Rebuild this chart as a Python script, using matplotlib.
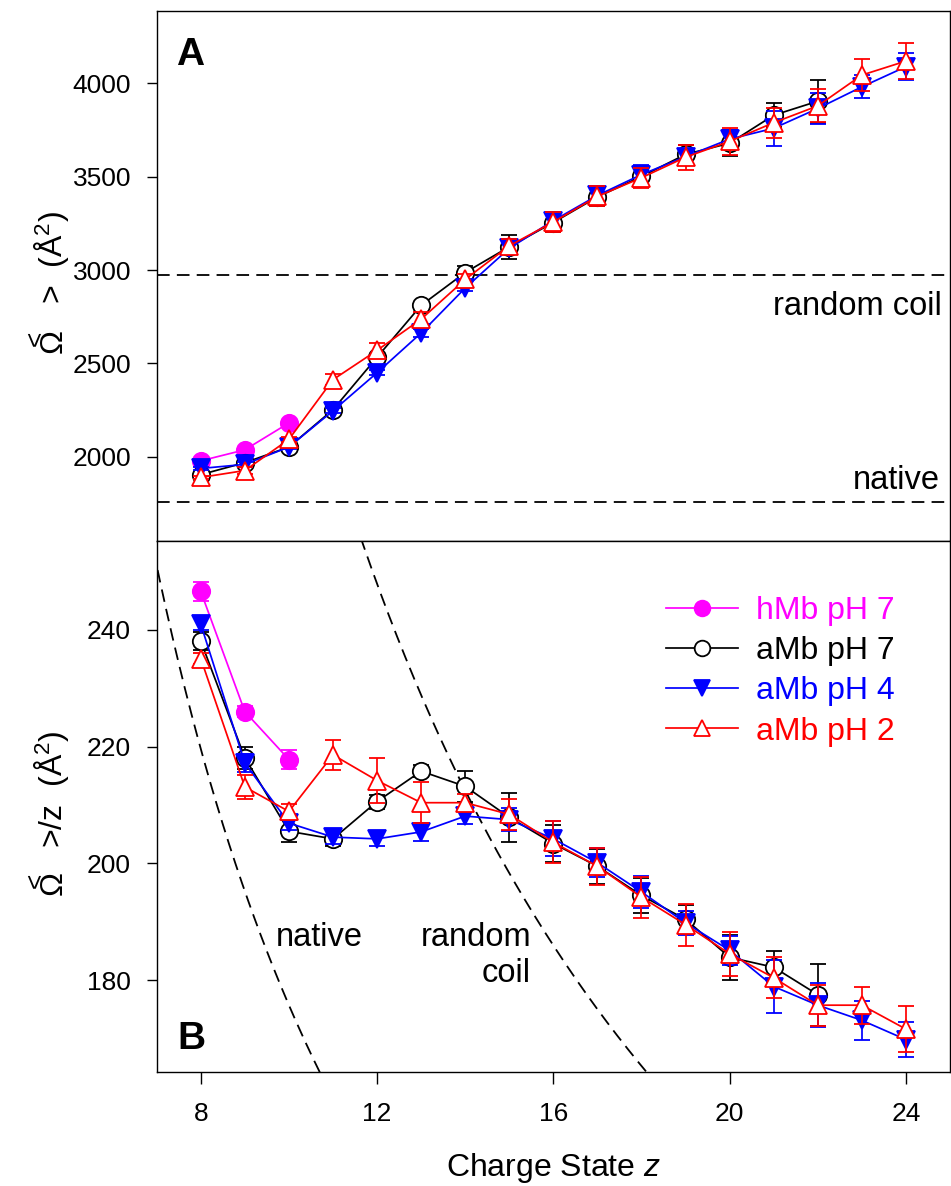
import matplotlib
matplotlib.use("Agg")
import matplotlib.pyplot as plt
import numpy as np

plt.rcParams['font.family'] = ['Liberation Sans', 'DejaVu Sans']
plt.rcParams['mathtext.fontset'] = 'custom'
plt.rcParams['mathtext.rm'] = 'Liberation Sans'
plt.rcParams['mathtext.it'] = 'Liberation Sans:italic'
plt.rcParams['mathtext.bf'] = 'Liberation Sans:bold'

# ---------------- data ----------------
z_h = [8, 9, 10]
z_a7 = list(range(8, 23))
z_a4 = list(range(8, 25))
z_a2 = list(range(8, 25))

# Panel A: <Omega> (A^2)
A_h = [1978, 2037, 2181]
A_a7 = [1904, 1968, 2052, 2252, 2533, 2811, 2987, 3125, 3255, 3392, 3502, 3620, 3680, 3830, 3905]
A_a4 = [1937, 1959, 2052, 2246, 2450, 2663, 2904, 3117, 3265, 3400, 3512, 3608, 3702, 3760, 3866, 3982, 4090]
A_a2 = [1889, 1926, 2093, 2413, 2570, 2737, 2950, 3130, 3258, 3395, 3495, 3605, 3690, 3790, 3880, 4045, 4120]
eA_h = [14, 8, 16]
eA_a7 = [12, 17, 19, 14, 14, 13, 36, 63, 51, 51, 54, 48, 70, 63, 115]
eA_a4 = [8, 14, 12, 13, 14, 20, 18, 30, 48, 43, 49, 38, 50, 95, 84, 62, 72]
eA_a2 = [8, 18, 12, 28, 42, 36, 28, 38, 56, 54, 54, 67, 74, 80, 88, 85, 95]

# Panel B: <Omega>/z (A^2)
B_h = [246.6, 226.0, 217.8]
B_a7 = [238.1, 218.1, 205.5, 204.2, 210.6, 215.8, 213.2, 207.9, 203.4, 199.5, 194.5, 190.4, 183.9, 182.2, 177.5]
B_a4 = [241.0, 217.2, 206.9, 204.5, 204.2, 205.4, 208.1, 207.5, 204.2, 200.1, 195.1, 189.8, 185.1, 178.9, 175.7, 173.1, 169.8]
B_a2 = [235.1, 213.1, 208.9, 218.6, 214.2, 210.4, 210.4, 208.4, 203.6, 199.5, 194.2, 189.5, 184.5, 180.4, 175.7, 175.7, 171.6]
eB_h = [1.7, 0.9, 1.6]
eB_a7 = [1.5, 1.9, 1.9, 1.3, 1.2, 1.0, 2.6, 4.2, 3.2, 3.0, 3.0, 2.5, 3.8, 2.7, 5.3]
eB_a4 = [1.0, 1.5, 1.2, 1.2, 1.2, 1.5, 1.3, 2.0, 3.0, 2.5, 2.7, 2.0, 2.5, 4.5, 3.8, 3.3, 3.0]
eB_a2 = [1.0, 2.0, 1.2, 2.6, 3.9, 3.5, 1.5, 2.6, 3.6, 3.2, 3.5, 3.6, 3.8, 3.5, 3.5, 3.2, 4.0]

native_ccs = 1757
coil_ccs = 2975

labels = ['hMb pH 7', 'aMb pH 7', 'aMb pH 4', 'aMb pH 2']
colors = ['#FF00FF', '#000000', '#0000FF', '#FF0000']

# ---------------- figure ----------------
W, H = 951, 1186
fig = plt.figure(figsize=(W / 100, H / 100), dpi=100)
L, R = 156.7, 950.0
axA = fig.add_axes([L / W, 1 - 540.7 / H, (R - L) / W, 530.0 / H])
axB = fig.add_axes([L / W, 1 - 1071.7 / H, (R - L) / W, 531.0 / H])

styles = [
    dict(marker='o', ms=12.5, mfc=colors[0], mec=colors[0]),
    dict(marker='o', ms=12.5, mfc='white', mec=colors[1]),
    dict(marker='v', ms=13.5, mfc=colors[2], mec=colors[2]),
    dict(marker='^', ms=13.5, mfc='white', mec=colors[3]),
]

seriesA = [(z_h, A_h, eA_h), (z_a7, A_a7, eA_a7), (z_a4, A_a4, eA_a4), (z_a2, A_a2, eA_a2)]
seriesB = [(z_h, B_h, eB_h), (z_a7, B_a7, eB_a7), (z_a4, B_a4, eB_a4), (z_a2, B_a2, eB_a2)]

handles = []
for ax, series in ((axA, seriesA), (axB, seriesB)):
    for i, (x, y, e) in enumerate(series):
        c = ax.errorbar(x, y, yerr=e, color=colors[i], lw=1.25, elinewidth=1.25,
                        capsize=6, capthick=1.25, mew=1.3, label=labels[i],
                        zorder=3 + i, **styles[i])
        if ax is axB:
            handles.append(c.lines[0])

dash = (0, (7, 4))
# Panel A reference lines
axA.axhline(coil_ccs, color='black', lw=1.3, ls=dash, zorder=1)
axA.axhline(native_ccs, color='black', lw=1.3, ls=dash, zorder=1)
# Panel B reference curves
zz = np.linspace(6.5, 25.5, 400)
axB.plot(zz, native_ccs / zz, color='black', lw=1.3, ls=dash, zorder=1)
axB.plot(zz, coil_ccs / zz, color='black', lw=1.3, ls=dash, zorder=1)

axA.set_xlim(7, 25)
axB.set_xlim(7, 25)
axA.set_ylim(1550, 4390)
axB.set_ylim(164.3, 255.3)

axA.set_yticks([2000, 2500, 3000, 3500, 4000])
axB.set_yticks([180, 200, 220, 240])
axB.set_xticks([8, 12, 16, 20, 24])
axA.set_xticks([])

for ax in (axA, axB):
    for s in ax.spines.values():
        s.set_linewidth(1.0)
    ax.tick_params(axis='y', direction='out', length=7.5, width=1.0, pad=11, labelsize=19)
    ax.tick_params(axis='x', direction='out', length=8.5, width=1.0, pad=13, labelsize=19)

# panel letters
axA.text((176 - L) / (R - L), (540.7 - 65) / 530, 'A', transform=axA.transAxes,
         fontsize=28, fontweight='bold', ha='left', va='baseline')
axB.text((177 - L) / (R - L), (1071.7 - 1049) / 531, 'B', transform=axB.transAxes,
         fontsize=28, fontweight='bold', ha='left', va='baseline')

# annotations
fs_ann = 23.5
axA.text((941.7 - L) / (R - L), (540.7 - 315) / 530, 'random coil', transform=axA.transAxes,
         fontsize=fs_ann, ha='right', va='baseline')
axA.text((940 - L) / (R - L), (540.7 - 489) / 530, 'native', transform=axA.transAxes,
         fontsize=fs_ann, ha='right', va='baseline')
axB.text((276 - L) / (R - L), (1071.7 - 946) / 531, 'native', transform=axB.transAxes,
         fontsize=fs_ann, ha='left', va='baseline')
axB.text((531 - L) / (R - L), (1071.7 - 946) / 531, 'random', transform=axB.transAxes,
         fontsize=fs_ann, ha='right', va='baseline')
axB.text((531 - L) / (R - L), (1071.7 - 982) / 531, 'coil', transform=axB.transAxes,
         fontsize=fs_ann, ha='right', va='baseline')


# axis labels (the "<" sits over the Omega, as in the original typesetting)
def ylabel(y_omega, y_rest, rest):
    base_x = 62 / W
    fig.text(base_x, 1 - y_omega / H, 'Ω', rotation=90, rotation_mode='anchor',
             ha='left', va='baseline', fontsize=23)
    fig.text(36 / W, 1 - (y_omega - 14.5) / H, '<', rotation=90,
             ha='center', va='center', fontsize=19)
    fig.text(base_x, 1 - y_rest / H, rest, rotation=90, rotation_mode='anchor',
             ha='left', va='baseline', fontsize=23)


ylabel(353, 304, '>  (Å$^2$)')
ylabel(895, 848, '>/z  (Å$^2$)')

fig.text((L + R) / 2 / W, 1 - 1176 / H, 'Charge State ' + r'$z$', ha='center', va='baseline',
         fontsize=23)

# legend
leg = axB.legend(handles=handles, labels=labels, loc='upper left',
                 bbox_to_anchor=((666 - L) / (R - L), (1071.7 - 596) / 531),
                 frameon=False, fontsize=23, handlelength=2.26, handletextpad=0.57,
                 borderpad=0, borderaxespad=0, labelspacing=0.32, labelcolor='linecolor',
                 markerscale=0.9)

fig.savefig('out.png', dpi=100)
